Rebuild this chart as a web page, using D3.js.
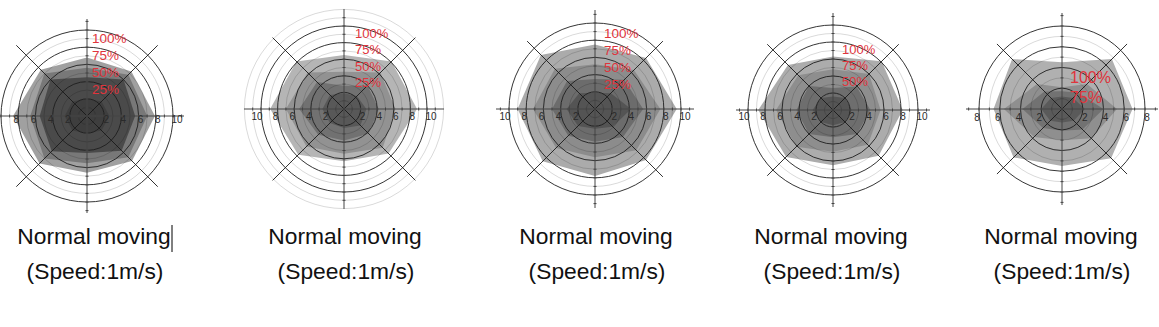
<!DOCTYPE html>
<html>
<head>
<meta charset="utf-8">
<script src="https://cdn.jsdelivr.net/npm/d3@7"></script>
<style>
  html, body { margin: 0; padding: 0; background: #fff; }
  svg { display: block; }
</style>
</head>
<body>
<script>
// Eight measurement directions, counter-clockwise from the right-hand axis
const directions = ["E", "NE", "N", "NW", "W", "SW", "S", "SE"];

// Coverage levels, drawn from the widest (100%) to the narrowest (25%)
const levels = ["100%", "75%", "50%", "25%"];

// Radial reach per level and direction (axis units)
const panel1Values = [
  [7.9, 7.3, 6.8, 7.6, 8.6, 7.8, 6.6, 7.4],
  [7.0, 6.8, 5.6, 7.0, 6.6, 7.0, 5.5, 6.8],
  [5.6, 6.0, 4.5, 6.0, 5.5, 5.8, 4.3, 5.7],
  [2.6, 2.4, 2.0, 2.4, 2.6, 2.4, 2.0, 2.4]
];
const panel2Values = [
  [8.8, 8.1, 6.5, 8.1, 8.9, 7.8, 6.3, 7.6],
  [6.2, 6.2, 4.5, 6.2, 7.0, 6.4, 5.4, 6.6],
  [4.2, 4.0, 2.8, 4.6, 5.4, 4.4, 3.8, 4.2],
  [2.7, 2.2, 1.9, 2.4, 2.6, 2.4, 2.3, 2.8]
];
const panel3Values = [
  [9.5, 8.4, 7.5, 8.9, 9.0, 8.6, 7.8, 8.4],
  [7.6, 6.4, 5.2, 6.6, 7.2, 6.4, 5.6, 6.8],
  [5.6, 4.8, 3.5, 4.6, 5.0, 4.4, 3.8, 4.6],
  [4.2, 2.6, 1.9, 2.6, 3.3, 2.8, 2.3, 2.9]
];
const panel4Values = [
  [8.2, 8.1, 6.3, 7.5, 8.8, 7.8, 6.5, 7.6],
  [5.6, 6.0, 4.8, 5.8, 6.7, 6.1, 4.9, 5.8],
  [4.4, 3.9, 2.6, 4.0, 4.3, 4.0, 3.2, 4.0],
  [2.2, 2.0, 1.6, 2.0, 2.4, 2.0, 1.8, 2.0]
];
const panel5Values = [
  [6.8, 6.8, 4.5, 6.8, 6.6, 6.6, 5.5, 6.7],
  [5.3, 3.4, 2.1, 3.4, 5.6, 3.8, 3.0, 4.0],
  [4.0, 2.2, 1.7, 2.4, 3.8, 2.6, 2.1, 2.8],
  [2.2, 1.5, 1.2, 1.5, 2.0, 1.6, 1.3, 1.6]
];

// Horizontal-axis tick labels (left and right of the centre)
const panel1TicksLeft = [2, 4, 6, 8];
const panel1TicksRight = [2, 4, 6, 8, 10];
const tenTicks = [2, 4, 6, 8, 10];
const eightTicks = [2, 4, 6, 8];

// Level labels printed in each chart
const panel1Labels = ["100%", "75%", "50%", "25%"];
const panel2Labels = ["100%", "75%", "50%", "25%"];
const panel3Labels = ["100%", "75%", "50%", "25%"];
const panel4Labels = ["100%", "75%", "50%"];
const panel5Labels = ["100%", "75%"];

const captionLine1 = "Normal moving";
const captionLine2 = "(Speed:1m/s)";

// Placement and styling of each chart
const panels = [
  { values: panel1Values, ticksL: panel1TicksLeft, ticksR: panel1TicksRight, labels: panel1Labels,
    cx: 87, cy: 116, max: 10, R: 86, extra: [], reach: 97, diag: 100, tickDy: 7,
    lx: 5, ly: 38, lstep: 17, lsize: 13.5, capX: 94,
    fills: ["#a0a0a0", "#787878", "#4a4a4a", "#3e3e3e"] },
  { values: panel2Values, ticksL: tenTicks, ticksR: tenTicks, labels: panel2Labels,
    cx: 344, cy: 109, max: 10, R: 83, extra: [11, 12], reach: 100, diag: 101, tickDy: 11,
    lx: 11, ly: 33, lstep: 16.5, lsize: 13, capX: 345,
    fills: ["#b5b5b5", "#929292", "#717171", "#585858"] },
  { values: panel3Values, ticksL: tenTicks, ticksR: tenTicks, labels: panel3Labels,
    cx: 595, cy: 109, max: 10, R: 86, extra: [], reach: 99, diag: 96, tickDy: 11,
    lx: 9, ly: 33, lstep: 17.3, lsize: 13.5, capX: 596,
    fills: ["#ababab", "#8c8c8c", "#6c6c6c", "#545454"] },
  { values: panel4Values, ticksL: tenTicks, ticksR: tenTicks, labels: panel4Labels,
    cx: 833, cy: 110, max: 10, R: 85, extra: [], reach: 97, diag: 93, tickDy: 10,
    lx: 9, ly: 49, lstep: 16, lsize: 13, capX: 831,
    fills: ["#acacac", "#8e8e8e", "#6e6e6e", "#555555"] },
  { values: panel5Values, ticksL: eightTicks, ticksR: eightTicks, labels: panel5Labels,
    cx: 1062, cy: 109, max: 8, R: 83, extra: [], reach: 96, diag: 92, tickDy: 12,
    lx: 8, ly: 77, lstep: 20, lsize: 16, capX: 1061,
    fills: ["#b0b0b0", "#8f8f8f", "#727272", "#5a5a5a"] }
];

const W = 1159, H = 327;
const svg = d3.select("body").append("svg")
  .attr("width", W).attr("height", H)
  .style("font-family", "Arial, 'Liberation Sans', sans-serif");
svg.append("rect").attr("width", W).attr("height", H).attr("fill", "#fff");

// Direction index -> angle for d3.lineRadial (0 = up, clockwise)
const angle = d3.scaleLinear().domain([0, directions.length]).range([Math.PI / 2, Math.PI / 2 - 2 * Math.PI]);

panels.forEach(p => {
  const r = d3.scaleLinear().domain([0, p.max]).range([0, p.R]);
  const g = svg.append("g").attr("transform", `translate(${p.cx},${p.cy})`);

  // Level polygons, widest first
  const radial = d3.lineRadial()
    .angle((d, i) => angle(i))
    .radius(d => r(d))
    .curve(d3.curveLinearClosed);
  g.selectAll("path.level").data(p.values).join("path")
    .attr("class", "level")
    .attr("d", d => radial(d))
    .attr("fill", (d, i) => p.fills[i])
    .attr("stroke", "none");

  // Concentric rings: dark on even units, faint on odd units and beyond the scale
  const rings = d3.range(1, p.max + 1).concat(p.extra);
  const isMajor = d => d % 2 === 0 && d <= p.max;
  g.selectAll("circle.ring").data(rings).join("circle")
    .attr("class", "ring")
    .attr("r", d => r(d))
    .attr("fill", "none")
    .attr("stroke", d => isMajor(d) ? "#1e1e1e" : "#000")
    .attr("stroke-opacity", d => isMajor(d) ? 1 : 0.17)
    .attr("stroke-width", d => isMajor(d) ? 0.9 : 0.9);

  // Diagonal guide lines
  const dg = p.diag / Math.SQRT2;
  [[-dg, -dg, dg, dg], [dg, -dg, -dg, dg]].forEach(([x1, y1, x2, y2]) => {
    g.append("line").attr("x1", x1).attr("y1", y1).attr("x2", x2).attr("y2", y2)
      .attr("stroke", "#1a1a1a").attr("stroke-width", 0.9);
  });

  // Horizontal and vertical axes with unit ticks
  g.append("line").attr("x1", -p.reach).attr("x2", p.reach).attr("y1", 0).attr("y2", 0)
    .attr("stroke", "#444").attr("stroke-width", 1);
  g.append("line").attr("y1", -p.reach).attr("y2", p.reach).attr("x1", 0).attr("x2", 0)
    .attr("stroke", "#444").attr("stroke-width", 1);
  const unitTicks = d3.range(-p.max - 1, p.max + 2).filter(v => v !== 0 && Math.abs(r(v)) < p.reach);
  g.selectAll("line.tx").data(unitTicks).join("line").attr("class", "tx")
    .attr("x1", d => r(d)).attr("x2", d => r(d)).attr("y1", -1.5).attr("y2", 1.5)
    .attr("stroke", "#444").attr("stroke-width", 1);
  g.selectAll("line.ty").data(unitTicks).join("line").attr("class", "ty")
    .attr("y1", d => r(d)).attr("y2", d => r(d)).attr("x1", -1.5).attr("x2", 1.5)
    .attr("stroke", "#444").attr("stroke-width", 1);

  // Tick labels along the horizontal axis
  const tickData = p.ticksL.map(v => ({ v, s: -1 })).concat(p.ticksR.map(v => ({ v, s: 1 })));
  g.selectAll("text.tick").data(tickData).join("text").attr("class", "tick")
    .attr("x", d => d.s * (r(d.v) + (d.v >= 10 ? 4 : 2)))
    .attr("y", p.tickDy)
    .attr("text-anchor", "middle")
    .attr("font-size", 10)
    .attr("fill", "#2a2a2a")
    .text(d => d.v);

  // Level labels
  g.selectAll("text.lvl").data(p.labels).join("text").attr("class", "lvl")
    .attr("x", p.lx)
    .attr("y", (d, i) => p.ly + i * p.lstep - p.cy)
    .attr("dominant-baseline", "central")
    .attr("font-size", p.lsize)
    .attr("fill", "#e0343c")
    .text(d => d);

  // Caption
  svg.append("text").attr("x", p.capX).attr("y", 244)
    .attr("text-anchor", "middle").attr("font-size", 22.8).attr("fill", "#111")
    .text(captionLine1);
  svg.append("text").attr("x", p.capX + 1).attr("y", 279)
    .attr("text-anchor", "middle").attr("font-size", 22.8).attr("fill", "#111")
    .text(captionLine2);
});

// Text cursor after the first caption
svg.append("line").attr("x1", 172).attr("x2", 172).attr("y1", 225).attr("y2", 252)
  .attr("stroke", "#000").attr("stroke-width", 1);
</script>
</body>
</html>
